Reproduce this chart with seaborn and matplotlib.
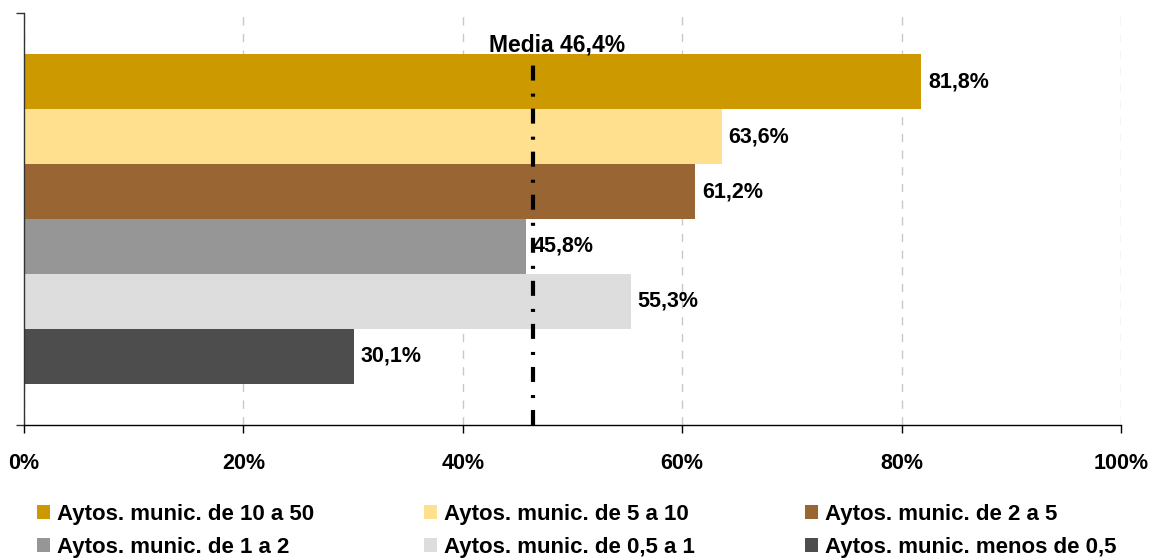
import matplotlib
matplotlib.use("Agg")
import matplotlib.pyplot as plt
import seaborn as sns
import pandas as pd

# Series (municipality size groups) and their percentages
series = [
    "Aytos. munic. de 10 a 50",
    "Aytos. munic. de 5 a 10",
    "Aytos. munic. de 2 a 5",
    "Aytos. munic. de 1 a 2",
    "Aytos. munic. de 0,5 a 1",
    "Aytos. munic. menos de 0,5",
]
values = [81.8, 63.6, 61.2, 45.8, 55.3, 30.1]
colors = ["#CC9900", "#FFE08F", "#996633", "#969696", "#DDDDDD", "#4D4D4D"]
media = 46.4
media_label = "Media 46,4%"
xticks = [0, 20, 40, 60, 80, 100]
xtick_labels = ["0%", "20%", "40%", "60%", "80%", "100%"]

sns.set_theme(style="white")
plt.rcParams["font.family"] = ["Liberation Sans", "DejaVu Sans"]
plt.rcParams["font.weight"] = "bold"
plt.rcParams["text.color"] = "black"
plt.rcParams["lines.scale_dashes"] = False

df = pd.DataFrame({"grupo": ["Total"] * len(series), "serie": series, "valor": values})

fig = plt.figure(figsize=(11.52, 5.58), dpi=100)
ax = fig.add_axes([24 / 1152, 1 - 425 / 558, (1121 - 24) / 1152, (425 - 13) / 558])

sns.barplot(
    data=df, x="valor", y="grupo", hue="serie", hue_order=series,
    palette=colors, orient="h", width=0.8, gap=0, saturation=1,
    edgecolor="none", linewidth=0, ax=ax, legend=True,
)

ax.set_xlim(0, 100)
ax.set_ylim(0.5, -0.5)
ax.set_xlabel("")
ax.set_ylabel("")

# Value labels at the end of each bar
for cont, v in zip(ax.containers, values):
    bar = cont.patches[0]
    yc = bar.get_y() + bar.get_height() / 2
    ax.text(v + 0.6, yc, f"{v:.1f}".replace(".", ",") + "%",
            va="center", ha="left", fontsize=15.5, fontweight="bold", color="black")

# Vertical grid
ax.set_xticks(xticks)
ax.set_xticklabels(xtick_labels, fontsize=15.5, fontweight="bold", color="black")
ax.xaxis.grid(True, color="#C8C8C8", linestyle=(0, (6, 6)), linewidth=1)
ax.yaxis.grid(False)
ax.set_axisbelow(True)
ax.set_yticks([-0.5, 0.5])
ax.set_yticklabels([])
ax.tick_params(axis="x", bottom=True, direction="out", length=6, width=1, color="black", pad=14)
ax.tick_params(axis="y", left=True, direction="out", length=6, width=1, color="#333333")

for s in ["top", "right"]:
    ax.spines[s].set_visible(False)
ax.spines["left"].set_color("#333333")
ax.spines["bottom"].set_color("black")
ax.spines["left"].set_linewidth(1)
ax.spines["bottom"].set_linewidth(1)

# Mean line and its label
first_bar = ax.containers[0].patches[0]
top_bar = first_bar.get_y()
ax.plot([media, media], [0.5, top_bar], color="black", linewidth=3,
        linestyle=(0, (10.8, 8.6, 2.2, 9.4)), zorder=5, solid_capstyle="butt")
ax.text(media + 2.2, top_bar - 0.006, media_label, ha="center", va="baseline",
        fontsize=16.5, fontweight="bold", color="black", zorder=6)

# Legend below, three columns filled row by row
handles, labels = ax.get_legend_handles_labels()
order = [0, 3, 1, 4, 2, 5]
leg = ax.legend([handles[i] for i in order], [labels[i] for i in order],
                ncol=3, loc="upper left", bbox_to_anchor=(37 / 1152, 1 - 504 / 558),
                bbox_transform=fig.transFigure, frameon=False,
                prop={"size": 16, "weight": "bold"},
                handlelength=0.6, handleheight=0.6, handletextpad=0.3,
                columnspacing=4.95, labelspacing=0.52, borderaxespad=0, borderpad=0)
for t in leg.get_texts():
    t.set_color("black")

fig.savefig("out.png", dpi=100)
